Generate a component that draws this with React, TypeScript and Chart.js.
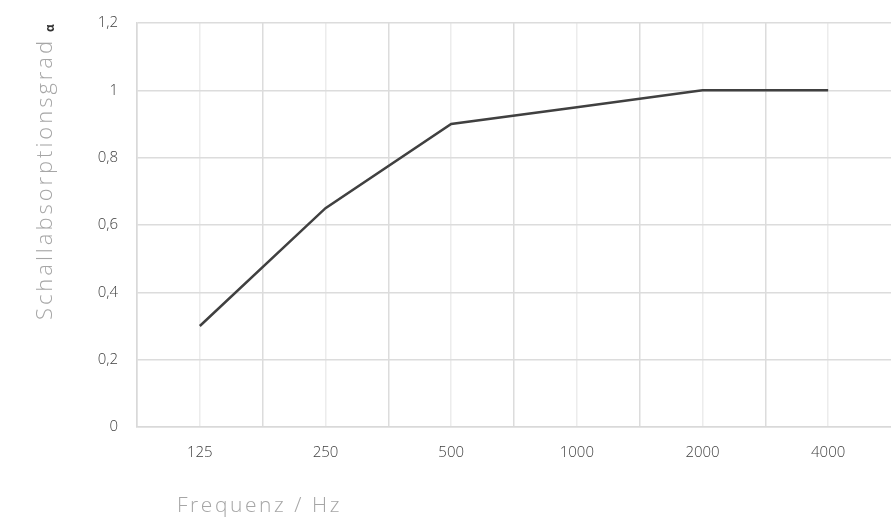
import React, { useEffect, useRef } from "react";
import { Chart, registerables } from "chart.js";

Chart.register(...registerables);

const categories = ["125", "250", "500", "1000", "2000", "4000"];
const absorption = [0.3, 0.65, 0.9, 0.95, 1.0, 1.0];
const yTitle = "Schallabsorptionsgrad";
const yTitleSymbol = "α";
const xTitle = "Frequenz / Hz";

const FONT = "'Open Sans', Lato, sans-serif";

function fitText(ctx: any, text: string, target: number) {
  ctx.letterSpacing = "0px";
  const w = ctx.measureText(text).width;
  const sp = Math.max(0, (target - w) / text.length);
  ctx.letterSpacing = sp.toFixed(2) + "px";
}

const titlesPlugin = {
  id: "customTitles",
  afterDraw(chart: any) {
    const ctx = chart.ctx;
    ctx.save();
    ctx.translate(52, 320);
    ctx.rotate(-Math.PI / 2);
    ctx.textBaseline = "alphabetic";
    ctx.textAlign = "left";
    ctx.font = `300 22px ${FONT}`;
    ctx.fillStyle = "#a6a6a6";
    fitText(ctx, yTitle, 282);
    ctx.fillText(yTitle, 0, 0);
    ctx.letterSpacing = "0px";
    ctx.font = `bold 12px ${FONT}`;
    ctx.fillStyle = "#333333";
    ctx.textBaseline = "middle";
    ctx.fillText(yTitleSymbol, 288, -1);
    ctx.restore();

    ctx.save();
    ctx.font = `300 21px ${FONT}`;
    ctx.fillStyle = "#a6a6a6";
    ctx.textBaseline = "alphabetic";
    ctx.textAlign = "left";
    fitText(ctx, xTitle, 165);
    ctx.fillText(xTitle, 177, 512);
    ctx.restore();
  },
};

export default function App() {
  const ref = useRef<HTMLCanvasElement | null>(null);
  useEffect(() => {
    document.body.style.margin = "0";
    const chart = new Chart(ref.current as HTMLCanvasElement, {
      type: "line",
      data: {
        datasets: [
          {
            data: categories.map((c, i) => ({ x: i, y: absorption[i] })),
            borderColor: "#404040",
            borderWidth: 2.5,
            pointRadius: 0,
            tension: 0,
            fill: false,
          },
        ],
      },
      options: {
        animation: false,
        responsive: false,
        layout: { padding: { top: 23, right: 0, left: 0, bottom: 0 } },
        plugins: { legend: { display: false }, tooltip: { enabled: false } },
        scales: {
          x: {
            type: "linear",
            min: -0.5,
            max: 5.5,
            afterBuildTicks: (scale: any) => {
              const t = [];
              for (let i = 0; i <= 12; i++) t.push({ value: -0.5 + i * 0.5 });
              scale.ticks = t;
            },
            afterFit: (scale: any) => {
              scale.height = 92;
            },
            border: { display: true, color: "#d9d9d9", width: 1.5 },
            grid: {
              drawTicks: true,
              tickLength: 17,
              tickColor: "rgba(0,0,0,0)",
              color: (c: any) => {
                const v = c.tick ? c.tick.value : 0;
                if (v >= 5.5) return "rgba(0,0,0,0)";
                return Number.isInteger(v) ? "#ececec" : "#dcdcdc";
              },
              lineWidth: 1.5,
            },
            ticks: {
              autoSkip: false,
              maxRotation: 0,
              padding: 0,
              color: "#404040",
              font: { family: FONT, size: 15, weight: 300 as any },
              callback: (v: any) => {
                const n = Number(v);
                return Number.isInteger(n) && categories[n] !== undefined ? categories[n] : "";
              },
            },
          },
          y: {
            min: 0,
            max: 1.2,
            afterFit: (scale: any) => {
              scale.width = 137;
            },
            border: { display: true, color: "#d9d9d9", width: 1.5 },
            grid: {
              drawTicks: true,
              tickLength: 19,
              tickColor: "rgba(0,0,0,0)",
              color: "#dcdcdc",
              lineWidth: 1.5,
            },
            ticks: {
              stepSize: 0.2,
              padding: 0,
              color: "#404040",
              font: { family: FONT, size: 15, weight: 300 as any },
              callback: (v: any) => String(Math.round(Number(v) * 10) / 10).replace(".", ","),
            },
          },
        },
      },
      plugins: [titlesPlugin],
    });
    return () => chart.destroy();
  }, []);
  return (
    <div style={{ position: "absolute", left: 0, top: 0, width: 891, height: 519 }}>
      <canvas ref={ref} width={891} height={519} style={{ width: 891, height: 519 }} />
    </div>
  );
}
